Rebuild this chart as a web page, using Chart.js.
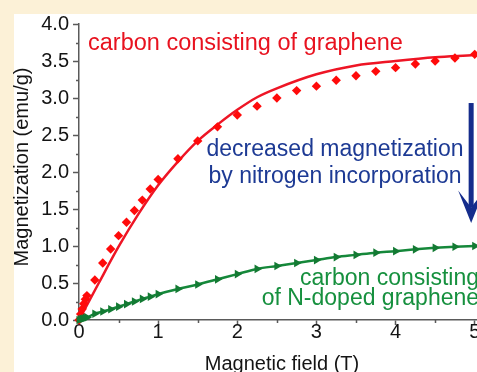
<!DOCTYPE html>
<html>
<head>
<meta charset="utf-8">
<script src="https://cdn.jsdelivr.net/npm/chart.js@4.4.0/dist/chart.umd.min.js"></script>
<style>
  html, body { margin: 0; padding: 0; background: #fcf1d7; }
  #wrap { position: absolute; left: 0; top: 0; width: 477px; height: 372px; overflow: hidden; background: #fcf1d7; }
  #paper { position: absolute; left: 14px; top: 14px; right: 0; bottom: 0; background: #ffffff; }
  #c { position: absolute; left: 0; top: 0; }
</style>
</head>
<body>
<div id="wrap">
  <div id="paper"></div>
  <canvas id="c" width="540" height="390"></canvas>
</div>
<script>
// ---- data ----
const grapheneField = [0, 0.02, 0.04, 0.06, 0.08, 0.1, 0.2, 0.3, 0.4, 0.5, 0.6, 0.7, 0.8, 0.9, 1.0,
  1.25, 1.5, 1.75, 2.0, 2.25, 2.5, 2.75, 3.0, 3.25, 3.5, 3.75, 4.0, 4.25, 4.5, 4.75, 5.0];
const grapheneMag = [0, 0.08, 0.15, 0.22, 0.28, 0.33, 0.54, 0.77, 0.96, 1.14, 1.32, 1.48, 1.62, 1.77, 1.9,
  2.18, 2.42, 2.61, 2.77, 2.89, 3.0, 3.1, 3.16, 3.24, 3.3, 3.36, 3.41, 3.46, 3.5, 3.54, 3.59];

const fitField = [0, 0.25, 0.5, 0.75, 1.0, 1.25, 1.5, 1.75, 2.0, 2.25, 2.5, 3.0, 3.5, 4.0, 4.5, 5.0, 5.13];
const fitMag = [0, 0.5, 0.99, 1.43, 1.82, 2.14, 2.42, 2.64, 2.84, 3.01, 3.13, 3.32, 3.44, 3.5, 3.55, 3.58, 3.59];

const nDopedField = [0, 0.02, 0.04, 0.06, 0.08, 0.1, 0.2, 0.3, 0.4, 0.5, 0.6, 0.7, 0.8, 0.9, 1.0,
  1.25, 1.5, 1.75, 2.0, 2.25, 2.5, 2.75, 3.0, 3.25, 3.5, 3.75, 4.0, 4.25, 4.5, 4.75, 5.0];
const nDopedMag = [0, 0.01, 0.015, 0.02, 0.03, 0.035, 0.085, 0.115, 0.145, 0.18, 0.215, 0.25, 0.285, 0.315, 0.35,
  0.42, 0.48, 0.55, 0.62, 0.69, 0.73, 0.77, 0.81, 0.85, 0.88, 0.91, 0.93, 0.955, 0.975, 0.99, 1.0];

const yMinorTicks = [0.25, 0.75, 1.25, 1.75, 2.25, 2.75, 3.25, 3.75];
const xMinorTicks = [0.5, 1.5, 2.5, 3.5, 4.5];

const xTitle = 'Magnetic field (T)';
const yTitle = 'Magnetization (emu/g)';
const redLabel = 'carbon consisting of graphene';
const blueLabel = ['decreased magnetization', 'by nitrogen incorporation'];
const greenLabel = ['carbon consisting', 'of N-doped graphene'];

const FONT = '"Liberation Sans", Arial, sans-serif';
const AXIS = '#5a5a5a';

const toXY = (xs, ys) => xs.map((v, i) => ({ x: v, y: ys[i] }));

const extras = {
  id: 'extras',
  afterDraw(chart) {
    const { ctx, scales: { x, y } } = chart;
    ctx.save();
    // minor ticks
    ctx.strokeStyle = AXIS;
    ctx.lineWidth = 1.5;
    ctx.beginPath();
    yMinorTicks.forEach(v => {
      const py = Math.round(y.getPixelForValue(v)) + 0.5;
      ctx.moveTo(x.left - 3, py); ctx.lineTo(x.left, py);
    });
    xMinorTicks.forEach(v => {
      const px = Math.round(x.getPixelForValue(v)) + 0.5;
      ctx.moveTo(px, y.bottom); ctx.lineTo(px, y.bottom + 3);
    });
    ctx.stroke();

    // y axis title
    ctx.save();
    ctx.translate(28, 167);
    ctx.rotate(-Math.PI / 2);
    ctx.font = '20px ' + FONT;
    ctx.fillStyle = '#141414';
    ctx.textAlign = 'center';
    ctx.textBaseline = 'alphabetic';
    ctx.fillText(yTitle, 0, 0);
    ctx.restore();

    // annotations anchored in data space
    ctx.font = '23.5px ' + FONT;
    ctx.textBaseline = 'alphabetic';
    ctx.fillStyle = '#e8121f';
    ctx.textAlign = 'left';
    ctx.fillText(redLabel, x.getPixelForValue(0.114), y.getPixelForValue(3.649));

    ctx.font = '23px ' + FONT;
    ctx.fillStyle = '#1d3a94';
    ctx.textAlign = 'center';
    ctx.fillText(blueLabel[0], x.getPixelForValue(3.235), y.getPixelForValue(2.216));
    ctx.fillText(blueLabel[1], x.getPixelForValue(3.235), y.getPixelForValue(1.851));

    ctx.fillStyle = '#16903e';
    ctx.textAlign = 'right';
    ctx.fillText(greenLabel[0], x.getPixelForValue(5.055), y.getPixelForValue(0.473));
    ctx.fillText(greenLabel[1], x.getPixelForValue(5.055), y.getPixelForValue(0.203));

    // arrow
    const ax = x.getPixelForValue(4.955);
    const aTop = y.getPixelForValue(2.932);
    const aTip = y.getPixelForValue(1.311);
    const aBarb = y.getPixelForValue(1.75);
    const aNotch = y.getPixelForValue(1.52);
    ctx.fillStyle = '#152c8c';
    ctx.fillRect(ax - 2.5, aTop, 5, aNotch - aTop);
    ctx.beginPath();
    ctx.moveTo(ax, aTip);
    ctx.lineTo(ax - 13, aBarb);
    ctx.lineTo(ax, aNotch);
    ctx.lineTo(ax + 13, aBarb);
    ctx.closePath();
    ctx.fill();
    ctx.restore();
  }
};

new Chart(document.getElementById('c'), {
  type: 'scatter',
  data: {
    datasets: [
      {
        label: 'N-doped',
        data: toXY(nDopedField, nDopedMag),
        showLine: true,
        borderColor: '#15883a',
        borderWidth: 2.5,
        backgroundColor: '#137a33',
        pointStyle: 'triangle',
        rotation: 90,
        pointRadius: 5,
        pointBorderWidth: 0,
        cubicInterpolationMode: 'monotone',
        clip: false
      },
      {
        label: 'graphene',
        data: toXY(grapheneField, grapheneMag),
        showLine: false,
        backgroundColor: '#ff0a0a',
        borderColor: '#ff0a0a',
        pointStyle: 'rectRot',
        pointRadius: 4.7,
        pointBorderWidth: 0,
        clip: false
      },
      {
        label: 'fit',
        data: toXY(fitField, fitMag),
        showLine: true,
        borderColor: '#ee1525',
        borderWidth: 2.5,
        pointRadius: 0,
        cubicInterpolationMode: 'monotone',
        clip: false
      }
    ]
  },
  options: {
    responsive: false,
    animation: false,
    devicePixelRatio: 1,
    layout: { padding: { left: 0, top: 24, right: 55, bottom: 0 } },
    plugins: { legend: { display: false }, tooltip: { enabled: false } },
    scales: {
      x: {
        type: 'linear',
        min: 0,
        max: 5.13,
        afterFit(scale) { scale.height = 70; },
        border: { display: true, color: AXIS, width: 1.5 },
        grid: { drawOnChartArea: false, drawTicks: true, tickLength: 5, tickColor: AXIS, tickWidth: 1.5 },
        ticks: {
          stepSize: 1,
          includeBounds: false,
          padding: -5,
          color: '#141414',
          font: { family: FONT, size: 20 },
          callback: v => String(v)
        },
        title: {
          display: true,
          text: xTitle,
          color: '#141414',
          font: { family: FONT, size: 20 },
          padding: { top: 0, bottom: 14 }
        }
      },
      y: {
        type: 'linear',
        min: 0,
        max: 4,
        afterFit(scale) { scale.width = 79; },
        border: { display: true, color: AXIS, width: 1.5 },
        grid: { drawOnChartArea: false, drawTicks: true, tickLength: 6, tickColor: AXIS, tickWidth: 1.5 },
        ticks: {
          stepSize: 0.5,
          padding: 4,
          color: '#141414',
          font: { family: FONT, size: 20 },
          callback: v => Number(v).toFixed(1)
        }
      }
    }
  },
  plugins: [extras]
});
</script>
</body>
</html>
